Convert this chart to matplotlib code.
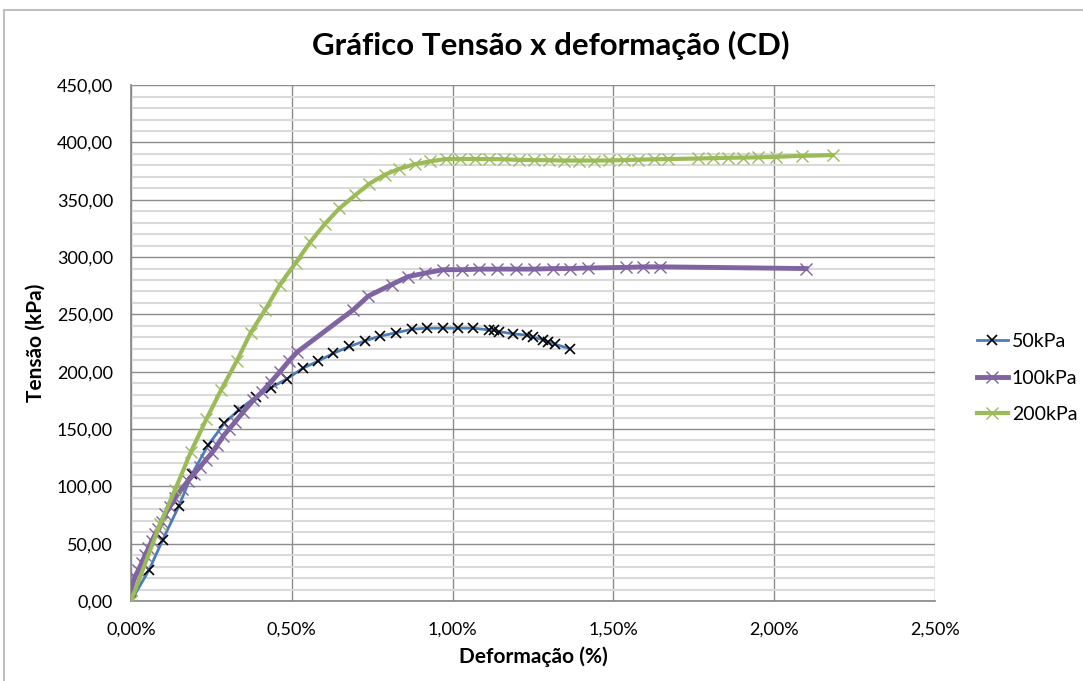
import matplotlib
matplotlib.use("Agg")
import matplotlib.pyplot as plt
from matplotlib.ticker import MultipleLocator, FuncFormatter
from matplotlib.patches import Rectangle

# ---- data (strain in %, stress in kPa) ----
x50 = [0, 0.056, 0.098, 0.149, 0.19, 0.24, 0.29, 0.336, 0.388, 0.435, 0.486, 0.534, 0.58, 0.629,
       0.679, 0.728, 0.774, 0.824, 0.873, 0.919, 0.969, 1.016, 1.064, 1.112, 1.13, 1.145, 1.189,
       1.23, 1.251, 1.282, 1.298, 1.318, 1.365]
y50 = [0, 27, 53, 83, 111, 136, 155, 167, 178, 186, 194, 203, 209, 216, 222, 227, 231, 234, 237,
       238, 238, 238, 238, 236.5, 236, 235, 233, 232, 230, 228, 226, 224, 220]

x100 = [0, 0.012, 0.023, 0.033, 0.044, 0.054, 0.064, 0.075, 0.085, 0.095, 0.107, 0.12, 0.137,
        0.158, 0.178, 0.196, 0.215, 0.232, 0.251, 0.268, 0.287, 0.305, 0.323, 0.349, 0.38, 0.406,
        0.435, 0.463, 0.49, 0.516, 0.691, 0.738, 0.81, 0.862, 0.914, 0.971, 1.028, 1.083, 1.139,
        1.197, 1.254, 1.311, 1.365, 1.422, 1.538, 1.593, 1.645, 2.099]
y100 = [10, 21, 27, 33, 40, 46, 52, 58, 63, 69, 76, 82, 90, 98, 105, 111, 117, 123, 129, 136, 144,
        150, 156, 165, 175, 182, 191, 200, 209, 217, 254, 266, 276, 283, 286, 289, 289, 289.5,
        289.5, 289.5, 289.5, 290, 290, 290.5, 291, 291.5, 291.5, 290]

x200 = [0, 0.09, 0.137, 0.186, 0.234, 0.28, 0.328, 0.372, 0.417, 0.463, 0.512, 0.557, 0.603, 0.648,
        0.697, 0.741, 0.79, 0.834, 0.883, 0.93, 0.978, 1.023, 1.07, 1.114, 1.16, 1.207, 1.254, 1.30,
        1.347, 1.394, 1.44, 1.486, 1.532, 1.578, 1.625, 1.671, 1.764, 1.81, 1.857, 1.904, 1.95,
        2.007, 2.088, 2.182]
y200 = [0, 67, 97, 130, 158.5, 184, 209, 234, 254, 276, 295, 313, 329, 342.5, 354, 364, 372, 377,
        381, 383.5, 385.5, 385.5, 385.5, 385.5, 385.3, 384.8, 384.6, 384.5, 384.2, 384.2, 384.2,
        384.3, 384.6, 385, 385.3, 385.5, 386, 386.3, 386.6, 386.8, 387, 387.5, 388.3, 389]

labels = ["50kPa", "100kPa", "200kPa"]
title = "Gráfico Tensão x deformação (CD)"
xlabel = "Deformação (%)"
ylabel = "Tensão (kPa)"

plt.rcParams['font.family'] = ['Lato', 'DejaVu Sans']

fig = plt.figure(figsize=(10.83, 6.81), dpi=100)
fig.patches.append(Rectangle((0.004, -0.2), 1.2, 1.185, transform=fig.transFigure,
                             fill=False, edgecolor='#bfbfbf', linewidth=1.5))
ax = fig.add_axes([0.121, 0.1175, 0.7423, 0.7575])

ax.plot(x50, y50, color='#4A7EBB', lw=2, marker='x', ms=7, mec='black', mew=1.2,
        label=labels[0], zorder=3)
ax.plot(x100, y100, color='#8064A2', lw=3.5, marker='x', ms=8, mec='#8064A2', mew=1.0,
        label=labels[1], zorder=4)
ax.plot(x200, y200, color='#9BBB59', lw=3, marker='x', ms=8, mec='#9BBB59', mew=1.0,
        label=labels[2], zorder=5)

ax.set_xlim(0, 2.5)
ax.set_ylim(0, 450)
ax.xaxis.set_major_locator(MultipleLocator(0.5))
ax.yaxis.set_major_locator(MultipleLocator(50))
ax.yaxis.set_minor_locator(MultipleLocator(10))
ax.xaxis.set_major_formatter(FuncFormatter(lambda v, p: f"{v:.2f}%".replace('.', ',')))
ax.yaxis.set_major_formatter(FuncFormatter(lambda v, p: f"{v:.2f}".replace('.', ',')))

ax.grid(which='major', axis='both', color='#8c8c8c', lw=1.0, zorder=0)
ax.grid(which='minor', axis='y', color='#d9d9d9', lw=1.5, zorder=0)
ax.set_axisbelow(True)
for s in ['top', 'right']:
    ax.spines[s].set_visible(False)
for s in ['left', 'bottom']:
    ax.spines[s].set_color('#868686')
    ax.spines[s].set_linewidth(1.2)
ax.tick_params(which='both', length=0, labelsize=13, colors='black')
ax.tick_params(axis='y', pad=13)
ax.tick_params(axis='x', pad=15)

fig.text(0.509, 0.933, title, fontsize=22.5, fontweight='bold', ha='center', va='center')
ax.set_xlabel(xlabel, fontsize=15, fontweight='bold', labelpad=6)
ax.set_ylabel(ylabel, fontsize=15, fontweight='bold', labelpad=8)

leg = ax.legend(loc='center left', bbox_to_anchor=(1.052, 0.432), frameon=False,
                fontsize=14, handlelength=1.6, labelspacing=1.0, handletextpad=0.2,
                borderaxespad=0, borderpad=0)

fig.savefig('out.png', dpi=100)
